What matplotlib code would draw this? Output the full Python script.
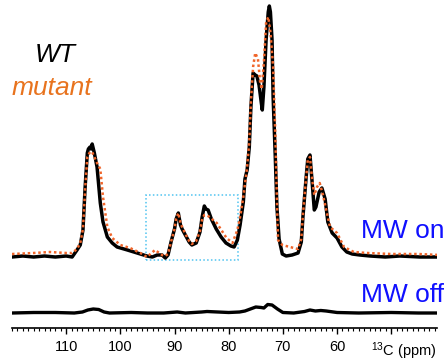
import numpy as np
import matplotlib
matplotlib.use("Agg")
import matplotlib.pyplot as plt
from matplotlib.patches import Rectangle
from matplotlib.ticker import MultipleLocator, FixedLocator

plt.rcParams["font.family"] = ["Liberation Sans", "DejaVu Sans"]
plt.rcParams["mathtext.fontset"] = "custom"
plt.rcParams["mathtext.rm"] = "Liberation Sans"

# 13C spectra (ppm, intensity in arbitrary units)
wt_on_ppm = [120.0, 118.0, 116.0, 114.0, 112.0, 110.0, 108.9, 108.0, 107.4, 106.9,
             106.5, 106.1, 105.9, 105.6, 105.4, 105.2, 104.8, 104.3, 103.7, 103.2,
             102.4, 101.5, 100.6, 98.7, 96.9, 95.1, 94.1, 93.2, 92.3, 91.7,
             91.2, 90.6, 90.0, 89.7, 89.3, 88.9, 88.6, 87.9, 87.3, 86.8,
             86.0, 85.3, 84.9, 84.5, 84.2, 83.8, 83.2, 82.3, 81.4, 80.5,
             79.6, 79.0, 78.4, 77.9, 77.3, 77.0, 76.6, 76.2, 75.9, 75.5,
             75.1, 74.8, 74.4, 74.0, 73.8, 73.5, 73.1, 72.7, 72.5, 72.3,
             72.0, 71.8, 71.4, 71.1, 70.7, 70.1, 69.4, 68.3, 67.2, 66.6,
             66.3, 65.7, 65.4, 65.0, 64.6, 64.2, 63.9, 63.3, 62.8, 62.2,
             61.7, 60.9, 60.0, 59.1, 58.2, 57.2, 55.8, 53.9, 51.1, 48.4,
             44.7, 41.0]
wt_on = [0, 1, 0, 1, 0, 1, 0, 7, 12, 27,
         70, 104, 108, 110, 108, 113, 104, 90, 54, 35,
         20, 14, 10, 7, 4, 1, 0, 2, 2, -1,
         2, 16, 28, 38, 44, 32, 28, 21, 15, 12,
         14, 25, 40, 51, 48, 47, 38, 28, 20, 14,
         11, 10, 17, 32, 55, 78, 87, 110, 150, 184,
         182, 181, 172, 155, 147, 170, 217, 245, 251, 245,
         217, 160, 100, 50, 18, 3, 1, 2, 4, 15,
         40, 80, 98, 102, 75, 47, 50, 65, 69, 58,
         35, 24, 19, 10, 5, 3, 2, 1, 0, 1,
         0, 0]

mut_on_ppm = [120.0, 116.0, 113.0, 110.0, 108.9, 108.0, 107.4, 106.9, 106.5, 106.1,
              105.6, 105.2, 104.8, 104.3, 103.7, 103.2, 102.4, 101.5, 100.0, 98.2,
              96.3, 95.1, 93.6, 92.3, 91.7, 91.2, 90.6, 90.0, 89.7, 89.3,
              88.9, 88.6, 87.9, 87.3, 86.8, 86.0, 85.3, 84.9, 84.5, 84.2,
              83.8, 82.2, 80.4, 79.3, 78.4, 77.9, 77.3, 76.6, 76.2, 75.9,
              75.5, 75.1, 74.6, 74.2, 73.9, 73.5, 73.1, 72.7, 72.3, 71.8,
              71.4, 71.1, 70.9, 70.1, 68.7, 67.2, 66.6, 66.3, 65.7, 65.4,
              65.0, 64.6, 64.2, 63.7, 63.2, 62.6, 61.3, 60.0, 58.7, 56.9,
              54.4, 50.0, 45.0, 41.0]
mut_on = [3, 4, 5, 4, 4, 8, 14, 28, 68, 100,
          105, 105, 100, 94, 88, 60, 30, 19, 12, 9,
          4, 0, 7, 2, 1, 3, 16, 28, 38, 44,
          34, 30, 22, 16, 13, 16, 26, 38, 42, 42,
          41, 34, 19, 14, 27, 40, 60, 90, 115, 155,
          190, 204, 198, 175, 168, 195, 234, 240, 225, 190,
          124, 57, 17, 12, 10, 8, 18, 42, 80, 97,
          100, 78, 62, 70, 74, 62, 30, 24, 10, 5,
          4, 3, 3, 2]

wt_off_ppm = [120.0, 116.0, 112.0, 108.5, 107.0, 106.0, 105.0, 104.0, 103.0, 102.0,
              98.0, 95.0, 92.0, 89.5, 88.0, 85.0, 84.0, 82.0, 80.0, 78.0,
              77.0, 76.0, 75.0, 74.0, 73.5, 72.8, 72.0, 71.0, 70.0, 68.0,
              66.0, 65.0, 64.0, 63.0, 62.0, 60.0, 56.0, 50.0, 45.0, 41.0]
wt_off = [0, 0.5, 0.5, 0, 1, 3, 4, 3.5, 1, 0,
          0.5, 0, 0, 1, 0, 1, 1.5, 1, 0.5, 1,
          2, 4, 6, 5.5, 5, 8.5, 8, 4, 0.5, 0,
          1.5, 3, 2, 2.5, 2, 0.5, 0, 0.5, 0, 0]

on_offset = 71
off_offset = 15

tick_values = [110, 100, 90, 80, 70, 60, 50]
tick_labels = ["110", "100", "90", "80", "70", "60", ""]

fig = plt.figure(figsize=(4.48, 3.64), dpi=100)
ax = fig.add_axes([12 / 448, 36 / 364, 425 / 448, 328 / 364])

ax.plot(wt_off_ppm, np.array(wt_off) + off_offset, color="black", lw=2.4,
        solid_joinstyle="round")
ax.plot(wt_on_ppm, np.array(wt_on) + on_offset, color="black", lw=2.5,
        solid_joinstyle="round")
ax.plot(mut_on_ppm, np.array(mut_on) + on_offset, color="#f0652a", lw=1.8,
        linestyle=(0, (1, 1.1)))

# zoom box around the 78-95 ppm region
ax.add_patch(Rectangle((95.2, 68), 78.3 - 95.2, 65, fill=False,
                       edgecolor="#4fc3f0", lw=1.1, linestyle=(0, (1, 1.5))))

ax.set_xlim(120, 41.55)
ax.set_ylim(0, 328)
for side in ["top", "left", "right"]:
    ax.spines[side].set_visible(False)
ax.spines["bottom"].set_linewidth(1.2)
ax.set_yticks([])
ax.xaxis.set_major_locator(FixedLocator(tick_values))
ax.set_xticklabels(tick_labels)
ax.xaxis.set_minor_locator(MultipleLocator(1))
ax.tick_params(axis="x", which="major", direction="out", length=4.5, width=1,
               labelsize=10.5, pad=4)
ax.tick_params(axis="x", which="minor", direction="out", length=2.2, width=0.8)

fig.text(437 / 448, 1 - 356 / 364, r"$\mathregular{^{13}}$C (ppm)", ha="right",
         va="baseline", fontsize=10.5)

fig.text(55 / 448, 1 - 62 / 364, "WT", style="italic", color="black",
         ha="center", va="baseline", fontsize=19)
fig.text(12 / 448, 1 - 95 / 364, "mutant", style="italic", color="#e8731e",
         ha="left", va="baseline", fontsize=19)
fig.text(444 / 448, 1 - 238 / 364, "MW on", color="#1010ff", ha="right",
         va="baseline", fontsize=19)
fig.text(444 / 448, 1 - 302 / 364, "MW off", color="#1010ff", ha="right",
         va="baseline", fontsize=19)

fig.savefig("out.png", dpi=100)
